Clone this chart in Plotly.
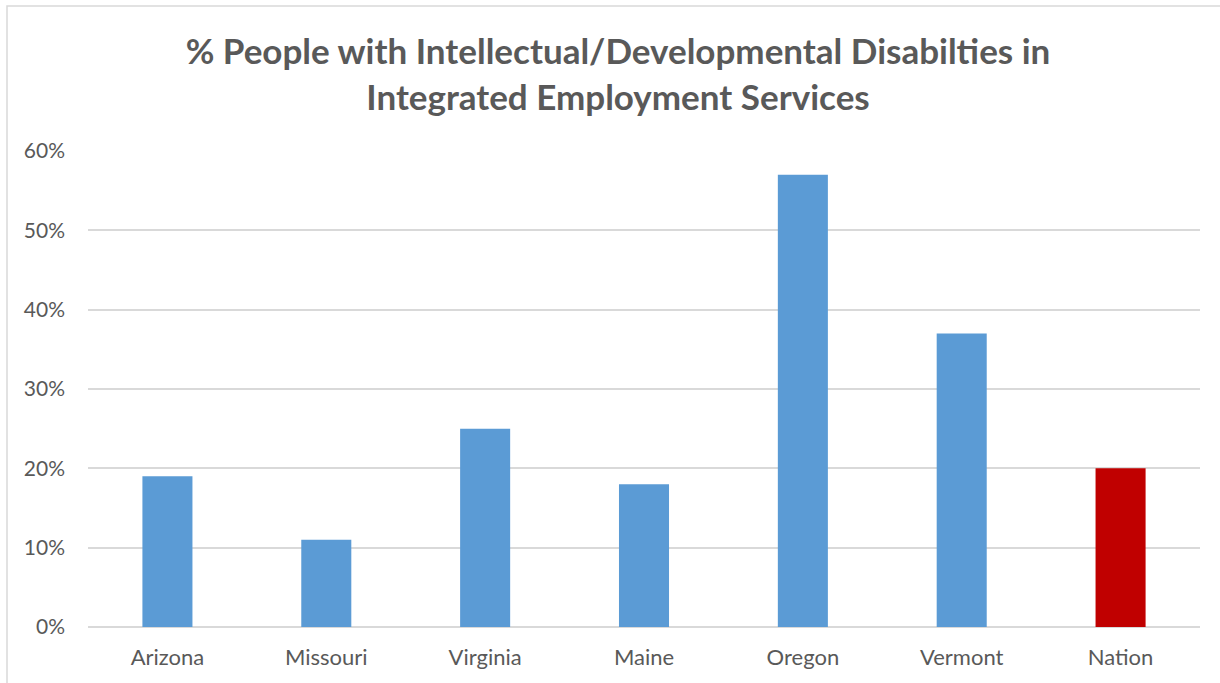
import plotly.graph_objects as go

categories = ["Arizona", "Missouri", "Virginia", "Maine", "Oregon", "Vermont", "Nation"]
values = [0.19, 0.11, 0.25, 0.18, 0.57, 0.37, 0.20]
colors = ["#5B9BD5"] * 6 + ["#C00000"]
y_ticks = [0, 0.1, 0.2, 0.3, 0.4, 0.5, 0.6]
title_text = "% People with Intellectual/Developmental Disabilties in<br>Integrated Employment Services"

W, H = 1220, 683
L, R, T, B = 88, 20, 151, 56

fig = go.Figure(go.Bar(x=categories, y=values, marker=dict(color=colors, line=dict(width=0)), width=0.315))

pw = W - L - R
ph = H - T - B

def px_x(p):
    return (p - L) / pw

def px_y(p):
    return (H - B - p) / ph

fig.add_shape(type="rect", xref="paper", yref="paper",
              x0=px_x(7), x1=px_x(1240), y0=px_y(700), y1=px_y(6),
              line=dict(color="#D9D9D9", width=1.5), fillcolor="rgba(0,0,0,0)", layer="below")

fig.update_layout(
    width=W, height=H,
    margin=dict(l=L, r=R, t=T, b=B),
    paper_bgcolor="white", plot_bgcolor="white",
    showlegend=False,
    font=dict(family="Lato, Open Sans, sans-serif", color="#595959", size=21),
    title=dict(text=title_text, xref="container", yref="container",
               x=618 / W, xanchor="center", y=1 - 64 / H, yanchor="top",
               font=dict(size=35, color="#595959", family="Lato, Open Sans, sans-serif", weight="bold")),
    xaxis=dict(showgrid=False, showline=False, ticks="", tickfont=dict(size=22, color="#595959"),
               ticklabelstandoff=15),
    yaxis=dict(range=[0, 0.6], tickvals=y_ticks, tickformat=".0%", showgrid=True,
               gridcolor="#D9D9D9", gridwidth=1.5, zeroline=True, zerolinecolor="#D9D9D9",
               zerolinewidth=1.5, showline=False, ticks="", ticklabelstandoff=22,
               tickfont=dict(size=21, color="#595959")),
    bargap=0.685,
)

fig.write_html("out.html", config={"displayModeBar": False},
               post_script="document.body.style.margin='0px';document.body.style.overflow='hidden';")
